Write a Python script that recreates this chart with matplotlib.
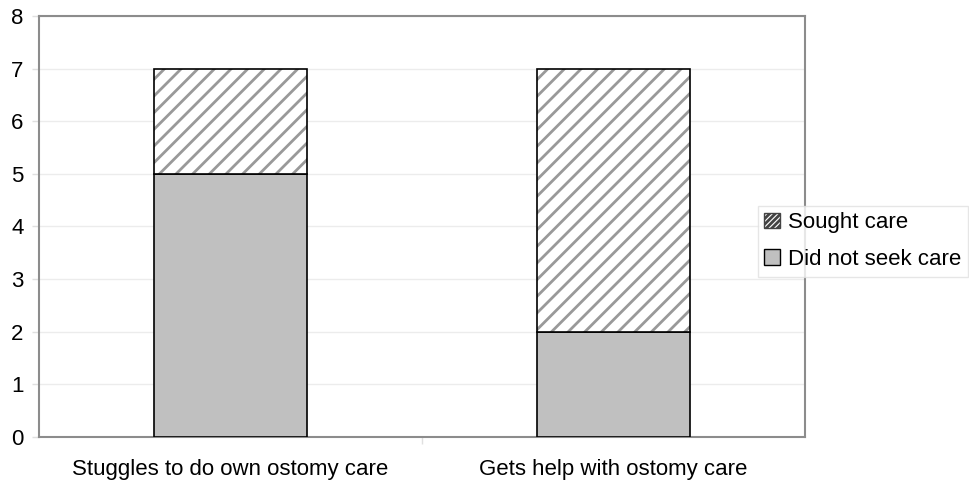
import matplotlib
matplotlib.use("Agg")
import matplotlib.pyplot as plt
from matplotlib.patches import Patch

plt.rcParams['font.family'] = ['Liberation Sans', 'DejaVu Sans']
plt.rcParams['hatch.linewidth'] = 2.0

categories = ["Stuggles to do own ostomy care", "Gets help with ostomy care"]
did_not_seek = [5, 2]
sought = [2, 5]
yticks = [0, 1, 2, 3, 4, 5, 6, 7, 8]

HATCH_GRAY = '#999999'

fig = plt.figure(figsize=(9.69, 4.91), dpi=100)
ax = fig.add_axes([0.0402, 0.110, 0.7905, 0.8574])

x = list(range(len(categories)))
ax.bar(x, did_not_seek, width=0.4, color='#c0c0c0', edgecolor='black', linewidth=1.2, zorder=3)
ax.bar(x, sought, width=0.4, bottom=did_not_seek, color='white', edgecolor=HATCH_GRAY,
       hatch='//', linewidth=0, zorder=3)
ax.bar(x, sought, width=0.4, bottom=did_not_seek, fill=False, edgecolor='black',
       linewidth=1.2, zorder=4)
ax.set_xlim(-0.5, 1.5)
ax.set_ylim(0, 8)
ax.set_yticks(yticks)
ax.set_xticks(x)
ax.set_xticklabels(categories, fontsize=16)
ax.tick_params(axis='y', labelsize=16, length=5, color='#e0e0e0', width=1, pad=6)
ax.tick_params(axis='x', length=0, pad=16)
ax.set_xticks([0.5], minor=True)
ax.tick_params(axis='x', which='minor', length=5, color='#e0e0e0', width=1)
ax.yaxis.grid(True, color='#ececec', linewidth=1, zorder=0)
for s in ax.spines.values():
    s.set_color('#8c8c8c')
    s.set_linewidth(1.5)

handles = [Patch(facecolor='white', edgecolor='#444444', hatch='//////', label='Sought care'),
           Patch(facecolor='#c0c0c0', edgecolor='black', label='Did not seek care')]
leg = fig.legend(handles=handles, loc='center left', bbox_to_anchor=(0.782, 0.509),
                 fontsize=16, frameon=True, fancybox=False, handlelength=0.7,
                 handleheight=0.7, handletextpad=0.35, borderpad=0.3, labelspacing=0.7,
                 borderaxespad=0)
leg.get_frame().set_edgecolor('#e0e0e0')
leg.get_frame().set_linewidth(1)

fig.savefig('out.png', dpi=100)
